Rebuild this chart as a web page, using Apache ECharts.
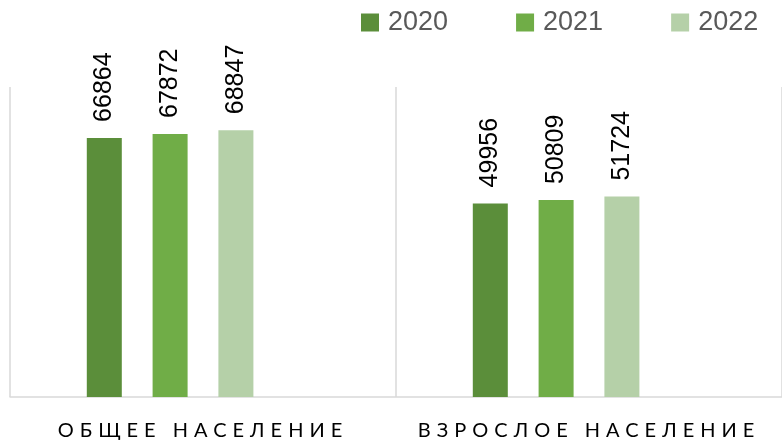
<!DOCTYPE html>
<html>
<head>
<meta charset="utf-8">
<script src="https://cdn.jsdelivr.net/npm/echarts@6/dist/echarts.min.js"></script>
<style>
html,body{margin:0;padding:0;background:#fff;}
#chart{width:782px;height:444px;}
</style>
</head>
<body>
<div id="chart"></div>
<script>
// Data
const categories = ['ОБЩЕЕ НАСЕЛЕНИЕ', 'ВЗРОСЛОЕ НАСЕЛЕНИЕ'];
const seriesNames = ['2020', '2021', '2022'];
const values2020 = [66864, 49956];
const values2021 = [67872, 50809];
const values2022 = [68847, 51724];
const spacerValues = [null, null]; // empty slot kept by the original layout

// Letter spacing for category labels only (canvas letterSpacing), keyed on the Lato font
(function(){
  const proto = CanvasRenderingContext2D.prototype;
  const orig = proto.fillText;
  proto.fillText = function(t, x, y, m){
    const spaced = this.font && this.font.indexOf('Lato') >= 0;
    if ('letterSpacing' in this) this.letterSpacing = spaced ? '6px' : '0px';
    const r = m === undefined ? orig.call(this, t, x, y) : orig.call(this, t, x, y, m);
    if ('letterSpacing' in this) this.letterSpacing = '0px';
    return r;
  };
})();

const colors = ['#5B8E3A', '#70AD47', '#B5D0A8'];
const labelOpt = {
  show: true,
  position: 'top',
  rotate: 90,
  align: 'left',
  verticalAlign: 'middle',
  distance: 16,
  color: '#000',
  fontFamily: 'Liberation Sans',
  fontSize: 25
};

const chart = echarts.init(document.getElementById('chart'), null, {renderer: 'canvas'});
const mk = (name, data, color) => ({
  name, type: 'bar', data, barWidth: 35, barGap: '88%',
  itemStyle: {color}, label: labelOpt, animation: false
});
chart.setOption({
  animation: false,
  legend: {
    data: seriesNames,
    left: 356, top: 4,
    icon: 'rect', itemWidth: 18, itemHeight: 18, itemGap: 68,
    textStyle: {color: '#595959', fontFamily: 'Liberation Sans', fontSize: 27, padding: [0, 0, 0, 4]}
  },
  grid: {left: 10, right: 0, top: 87, bottom: 47},
  xAxis: {
    type: 'category',
    data: categories,
    axisLine: {lineStyle: {color: '#d9d9d9', width: 1.5}},
    axisTick: {show: false},
    splitLine: {show: true, lineStyle: {color: '#d9d9d9', width: 1.5}},
    axisLabel: {color: '#000', fontFamily: 'Lato', fontSize: 20, margin: 24}
  },
  yAxis: {
    type: 'value', min: 0, max: 80000, show: false,
    splitLine: {show: false}
  },
  series: [
    mk(seriesNames[0], values2020, colors[0]),
    mk(seriesNames[1], values2021, colors[1]),
    mk(seriesNames[2], values2022, colors[2]),
    {name: 'spacer', type: 'bar', data: spacerValues, barWidth: 35, barGap: '88%', itemStyle: {color: 'transparent'}, label: {show: false}}
  ]
});
</script>
</body>
</html>
